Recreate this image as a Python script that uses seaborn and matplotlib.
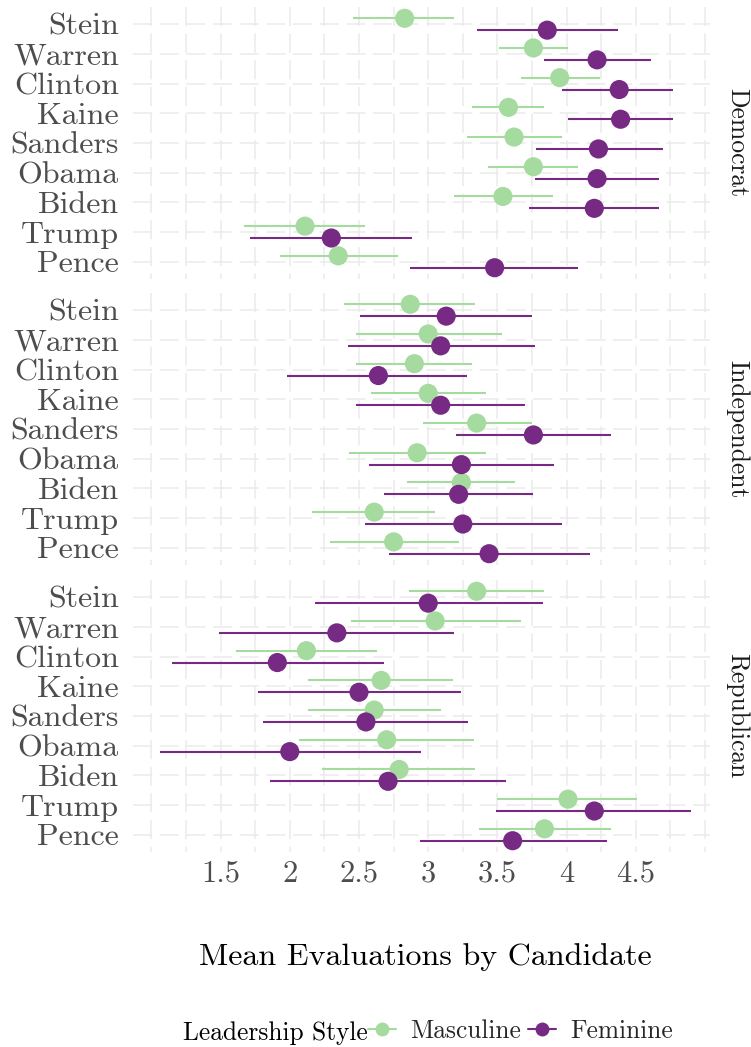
import numpy as np
import pandas as pd
import matplotlib
matplotlib.use("Agg")
import matplotlib.pyplot as plt
from matplotlib.lines import Line2D
import seaborn as sns

# ---- data -------------------------------------------------------------
candidates = ["Stein", "Warren", "Clinton", "Kaine", "Sanders",
              "Obama", "Biden", "Trump", "Pence"]
parties = ["Democrat", "Independent", "Republican"]
styles = ["Masculine", "Feminine"]

dem_masc_mean = [2.83, 3.76, 3.95, 3.58, 3.62, 3.76, 3.54, 2.11, 2.35]
dem_masc_lo = [2.46, 3.51, 3.67, 3.32, 3.28, 3.43, 3.19, 1.67, 1.93]
dem_masc_hi = [3.19, 4.01, 4.24, 3.84, 3.97, 4.08, 3.90, 2.54, 2.78]
dem_fem_mean = [3.86, 4.22, 4.38, 4.39, 4.23, 4.22, 4.20, 2.30, 3.48]
dem_fem_lo = [3.35, 3.84, 3.97, 4.01, 3.78, 3.77, 3.73, 1.71, 2.87]
dem_fem_hi = [4.37, 4.61, 4.77, 4.77, 4.70, 4.67, 4.67, 2.88, 4.08]

ind_masc_mean = [2.87, 3.00, 2.90, 3.00, 3.35, 2.92, 3.24, 2.61, 2.75]
ind_masc_lo = [2.39, 2.48, 2.48, 2.59, 2.96, 2.43, 2.85, 2.16, 2.29]
ind_masc_hi = [3.34, 3.53, 3.32, 3.42, 3.75, 3.42, 3.63, 3.05, 3.22]
ind_fem_mean = [3.13, 3.09, 2.64, 3.09, 3.76, 3.24, 3.22, 3.25, 3.44]
ind_fem_lo = [2.51, 2.42, 1.98, 2.48, 3.20, 2.57, 2.68, 2.54, 2.72]
ind_fem_hi = [3.75, 3.77, 3.28, 3.70, 4.32, 3.91, 3.76, 3.97, 4.17]

rep_masc_mean = [3.35, 3.05, 2.12, 2.66, 2.61, 2.70, 2.79, 4.01, 3.84]
rep_masc_lo = [2.86, 2.44, 1.61, 2.13, 2.13, 2.07, 2.23, 3.50, 3.37]
rep_masc_hi = [3.84, 3.67, 2.63, 3.18, 3.09, 3.33, 3.34, 4.51, 4.32]
rep_fem_mean = [3.00, 2.34, 1.91, 2.50, 2.55, 2.00, 2.71, 4.20, 3.61]
rep_fem_lo = [2.18, 1.49, 1.15, 1.77, 1.81, 1.06, 1.86, 3.49, 2.94]
rep_fem_hi = [3.83, 3.19, 2.68, 3.24, 3.29, 2.95, 3.56, 4.90, 4.29]

x_breaks = [1.5, 2.0, 2.5, 3.0, 3.5, 4.0, 4.5]
x_labels = ["1.5", "2", "2.5", "3", "3.5", "4", "4.5"]

# ---- long table ---------------------------------------------------------
series = {
    ("Democrat", "Masculine"): (dem_masc_mean, dem_masc_lo, dem_masc_hi),
    ("Democrat", "Feminine"): (dem_fem_mean, dem_fem_lo, dem_fem_hi),
    ("Independent", "Masculine"): (ind_masc_mean, ind_masc_lo, ind_masc_hi),
    ("Independent", "Feminine"): (ind_fem_mean, ind_fem_lo, ind_fem_hi),
    ("Republican", "Masculine"): (rep_masc_mean, rep_masc_lo, rep_masc_hi),
    ("Republican", "Feminine"): (rep_fem_mean, rep_fem_lo, rep_fem_hi),
}
rows = []
for (party, style), (m, lo, hi) in series.items():
    for cand, mv, lv, hv in zip(candidates, m, lo, hi):
        rows.append(dict(party=party, style=style, candidate=cand,
                         mean=mv, lo=lv, hi=hv))
df = pd.DataFrame(rows)

dodge = {"Masculine": -0.2, "Feminine": 0.2}
df["ypos"] = df["candidate"].map({c: i for i, c in enumerate(candidates)}) \
    + df["style"].map(dodge)

palette = {"Masculine": "#a6dba0", "Feminine": "#762a83"}

# ---- style --------------------------------------------------------------
sns.set_theme(style="white")
plt.rcParams["font.family"] = ["cmr10", "DejaVu Serif"]
plt.rcParams["axes.formatter.use_mathtext"] = True
plt.rcParams["lines.scale_dashes"] = False
plt.rcParams["axes.unicode_minus"] = False

XLIM = (0.865, 5.036)
YLIM = (8.58, -0.58)
GRID = "#ebebeb"
DASH = (0, (13.7, 5.5))


def draw_panel(data, **kws):
    ax = plt.gca()
    ax.hlines(range(len(candidates)), XLIM[0], XLIM[1], colors=GRID,
              linewidth=1.15, linestyles=[DASH], zorder=0)
    ax.vlines(np.arange(1.0, 5.01, 0.25), YLIM[1], YLIM[0], colors=GRID,
              linewidth=1.15, linestyles=[DASH], zorder=0)
    for st in styles:
        d = data[data["style"] == st]
        ax.hlines(d["ypos"], d["lo"], d["hi"], colors=palette[st],
                  linewidth=1.5, zorder=2)
    sns.scatterplot(data=data, x="mean", y="ypos", hue="style",
                    hue_order=styles, palette=palette, s=190, linewidth=0,
                    legend=False, ax=ax, zorder=3)


g = sns.FacetGrid(df, row="party", row_order=parties, sharex=True,
                  sharey=True, height=3, aspect=2)
g.map_dataframe(draw_panel)
fig = g.figure
fig.set_size_inches(7.51, 10.47)

W, H = 751.0, 1047.0
left, right = 132.7, 710.0
tops = [7.0, 293.0, 580.0]
ph = 272.0

for ax, party, top in zip(g.axes.flat, parties, tops):
    ax.set_position([left / W, 1 - (top + ph) / H, (right - left) / W, ph / H])
    ax.set_xlim(*XLIM)
    ax.set_ylim(*YLIM)
    ax.set_title("")
    ax.set_xlabel("")
    ax.set_ylabel("")
    for s in ax.spines.values():
        s.set_visible(False)
    ax.grid(False)
    ax.set_yticks(range(len(candidates)))
    ax.set_yticklabels(candidates, fontsize=23, color="#4d4d4d")
    ax.tick_params(axis="y", length=0, pad=10)
    ax.set_xticks(x_breaks)
    ax.tick_params(axis="x", length=0, pad=6)
    if party == parties[-1]:
        ax.set_xticklabels(x_labels, fontsize=22, color="#4d4d4d")
    else:
        ax.tick_params(axis="x", labelbottom=False)
    ax.text((737 - left) / (right - left), 0.5, party,
            transform=ax.transAxes, rotation=270, ha="center", va="center",
            fontsize=18.4, color="#1a1a1a")

fig.text(425 / W, 1 - 965 / H, "Mean Evaluations by Candidate",
         ha="center", va="baseline", fontsize=23, color="black")

fig.text(368 / W, 1 - 1040 / H, "Leadership Style", ha="right",
         va="baseline", fontsize=18.3, color="black")
handles = [Line2D([], [], color=palette[st], lw=1.5, marker="o",
                  markersize=10, markeredgewidth=0) for st in styles]
fig.legend(handles, styles, loc="center left", ncol=2, frameon=False,
           bbox_to_anchor=(368 / W, 1 - 1031 / H), fontsize=18.3,
           handlelength=1.1, handletextpad=0.55, columnspacing=0.3,
           borderpad=0, borderaxespad=0)

fig.savefig("out.png", dpi=100, facecolor="white")
